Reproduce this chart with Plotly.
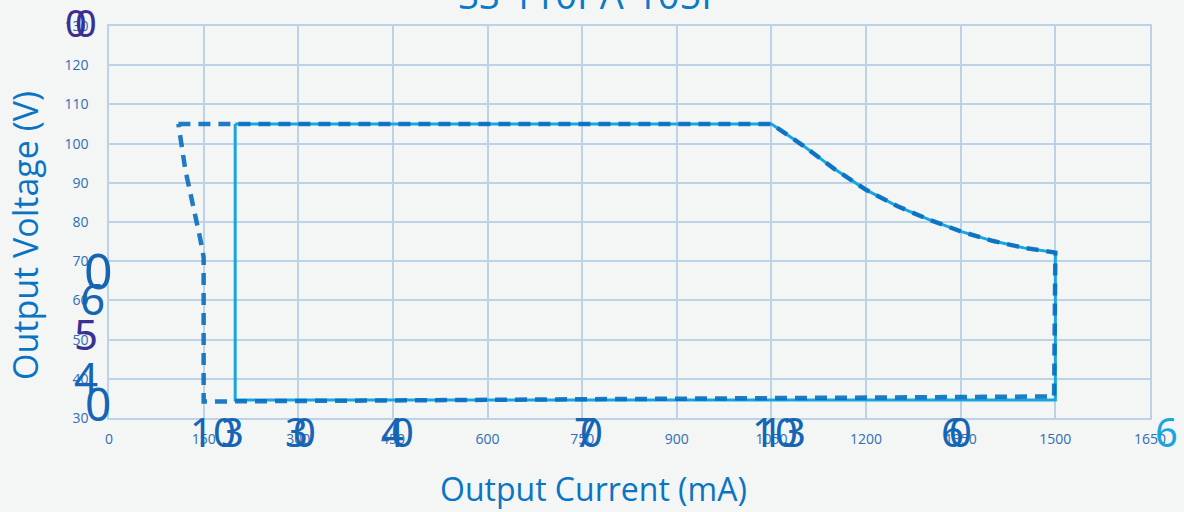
import plotly.graph_objects as go

# ---- data ----
solid_current = [200, 1050, 1100, 1150, 1200, 1250, 1300, 1350, 1400, 1450, 1500, 1500, 200, 200]
solid_voltage = [105, 105, 99.5, 93.5, 88.2, 84.0, 80.6, 77.6, 75.2, 73.4, 72.2, 34.6, 34.6, 105]

dash_current = [110, 1050, 1100, 1150, 1200, 1250, 1300, 1350, 1400, 1450, 1500, 1498, 150, 150, 145, 136, 121, 110]
dash_voltage = [105, 105, 99.5, 93.5, 88.2, 84.0, 80.6, 77.6, 75.2, 73.4, 72.2, 35.5, 34.2, 71, 75.4, 82.3, 93.3, 105]

x_ticks = [0, 150, 300, 450, 600, 750, 900, 1050, 1200, 1350, 1500, 1650]
y_ticks = [30, 40, 50, 60, 70, 80, 90, 100, 110, 120, 130]

title_text = "SS-110PA-105P"
x_title = "Output Current (mA)"
y_title = "Output Voltage (V)"

# stray overlapping glyphs seen in the reference (text, px x, px y, size, colour)
stray_labels = [
    ("0", 76, 22, 38, "#3a2f95"), ("0", 86, 22, 38, "#3a2f95"),
    ("0", 98, 270, 50, "#1565b5"), ("6", 92, 298, 44, "#1565b5"),
    ("5", 86, 333, 42, "#3a2f95"), ("4", 86, 376, 42, "#1565b5"),
    ("0", 98, 403, 46, "#1565b5"),
    ("10", 213, 431, 40, "#1565b5"), ("3", 232, 431, 40, "#1565b5"),
    ("3", 296, 431, 40, "#1565b5"), ("0", 304, 431, 40, "#1565b5"),
    ("4", 392, 431, 40, "#1565b5"), ("0", 402, 431, 40, "#1565b5"),
    ("7", 585, 431, 40, "#1565b5"), ("0", 591, 431, 40, "#1565b5"),
    ("10", 775, 431, 40, "#1565b5"), ("13", 783, 431, 40, "#1565b5"),
    ("6", 952, 431, 40, "#1565b5"), ("0", 960, 431, 40, "#1565b5"),
    ("6", 1166, 431, 40, "#1aa7e0"),
]

W, H = 1184, 512
ML, MR, MT, MB = 109, 34, 26, 94
pw = W - ML - MR
ph = H - MT - MB


def px_to_paper(px, py):
    return (px - ML) / pw, (H - MB - py) / ph


fig = go.Figure()
fig.add_trace(go.Scatter(x=solid_current, y=solid_voltage, mode="lines",
                         line=dict(color="#16a6e0", width=3), showlegend=False))
fig.add_trace(go.Scatter(x=dash_current, y=dash_voltage, mode="lines",
                         line=dict(color="#0a6ec0", width=4.5, dash="12px,8px"),
                         opacity=0.9, showlegend=False))

grid = "#bcd3e7"
tickfont = dict(family="Open Sans", size=14, color="#2f6db5")

annotations = []
for t, px, py, s, c in stray_labels:
    ax, ay = px_to_paper(px, py)
    annotations.append(dict(text=t, x=ax, y=ay, xref="paper", yref="paper", showarrow=False,
                            xanchor="center", yanchor="middle",
                            font=dict(family="Noto Sans", size=s, color=c)))

# axis titles as free text so they sit where the reference has them
xt, yt = px_to_paper(593, 488)
annotations.append(dict(text=x_title, x=xt, y=yt, xref="paper", yref="paper", showarrow=False,
                        xanchor="center", yanchor="middle",
                        font=dict(family="Open Sans", size=32, color="#0a74c4")))
xt, yt = px_to_paper(25, 236)
annotations.append(dict(text=y_title, x=xt, y=yt, xref="paper", yref="paper", showarrow=False,
                        xanchor="center", yanchor="middle", textangle=-90,
                        font=dict(family="Open Sans", size=34, color="#0a74c4")))

title_x, _ = px_to_paper(591, 0)

fig.update_layout(
    width=W, height=H,
    margin=dict(l=ML, r=MR, t=MT, b=MB),
    paper_bgcolor="#f4f6f6", plot_bgcolor="#f4f6f6",
    title=dict(text=title_text, x=title_x, xanchor="center", xref="paper",
               y=0.982, yref="container", yanchor="bottom",
               font=dict(family="Open Sans", size=38, color="#0a7ac8")),
    xaxis=dict(range=[0, 1650], tickvals=x_ticks, showgrid=True, gridcolor=grid, gridwidth=1.5,
               showline=True, linecolor=grid, linewidth=1.5, mirror=True, zeroline=False,
               tickfont=tickfont, ticks="", ticklabelstandoff=7),
    yaxis=dict(range=[30, 130], tickvals=y_ticks, showgrid=True, gridcolor=grid, gridwidth=1.5,
               showline=True, linecolor=grid, linewidth=1.5, mirror=True, zeroline=False,
               tickfont=tickfont, ticks="", ticklabelstandoff=16),
    annotations=annotations,
)

fig.write_html("out.html", config={"displayModeBar": False},
               post_script="document.body.style.margin='0';document.body.style.overflow='hidden';")
